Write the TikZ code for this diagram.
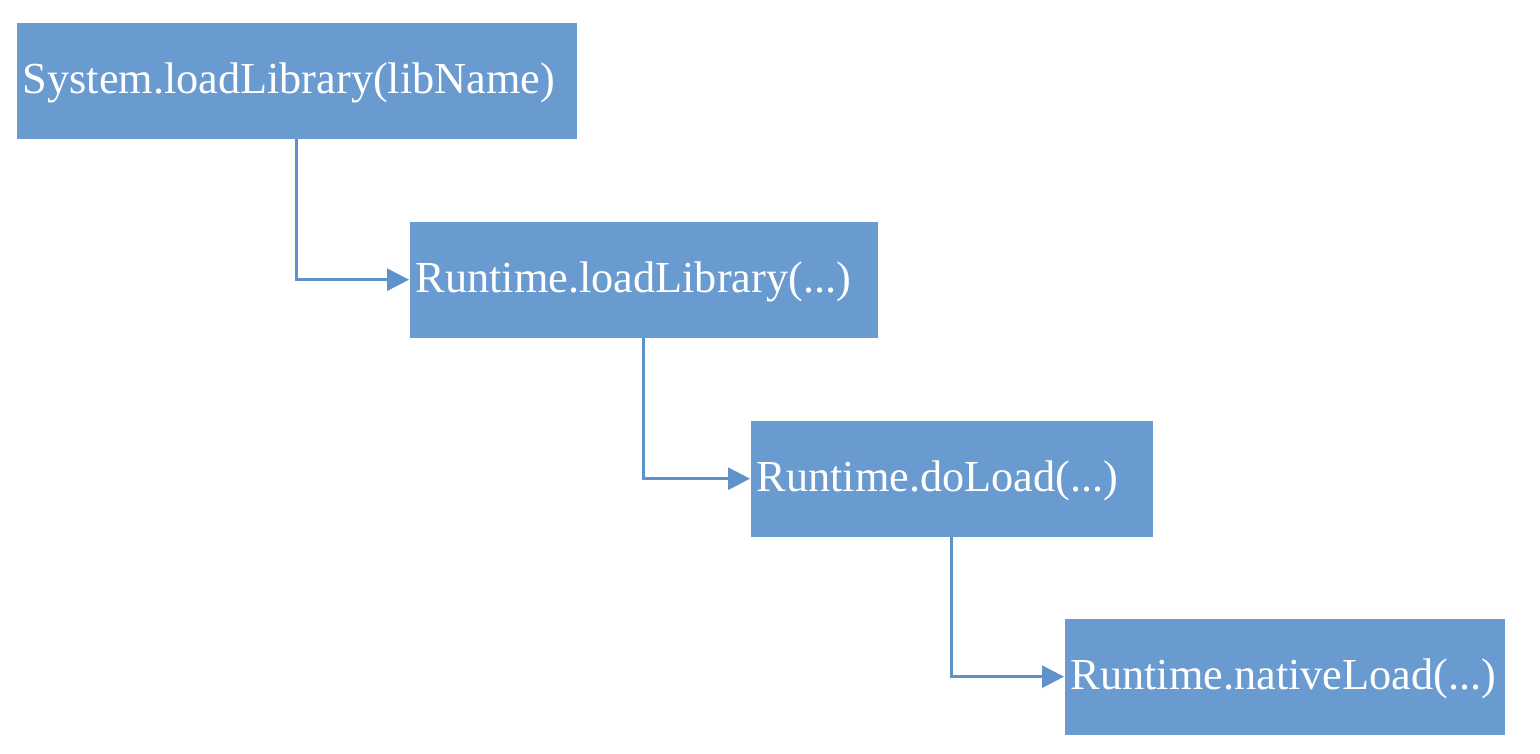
\documentclass[tikz,border=0pt]{standalone}
\usepackage{fontspec}
\setmainfont{Liberation Serif}
\usetikzlibrary{positioning,arrows.meta}
\definecolor{callblue}{RGB}{106,155,208}
\definecolor{linkblue}{RGB}{96,146,202}

\begin{document}
\begin{tikzpicture}[x=0.1mm, y=-0.1mm,
    call/.style={fill=callblue, text=white, anchor=north west, inner xsep=0.6mm,
        minimum height=11.6mm, align=left, text depth=0.6mm,
        font=\fontsize{12.6}{15}\selectfont},
    link/.style={draw=linkblue, line width=0.85pt, -{Triangle[length=2.2mm, width=2.2mm]}}]
        \useasboundingbox (0,0) rectangle (1540,754);

        % Define nodes
        \node[call, text width=54.8mm] (system)  at (16,22)   {System.loadLibrary(libName)};
        \node[call, text width=45.6mm] (runtime) at (409,221) {Runtime.loadLibrary(...)};
        \node[call, text width=39.0mm] (doload)  at (750,420) {Runtime.doLoad(...)};
        \node[call, text width=42.8mm] (native)  at (1064,618) {Runtime.nativeLoad(...)};

        % Connect the nodes
        \draw[link] (system.south)  |- (runtime.west);
        \draw[link] (runtime.south) |- (doload.west);
        \draw[link] (doload.south)  |- (native.west);

    \end{tikzpicture}
\end{document}
